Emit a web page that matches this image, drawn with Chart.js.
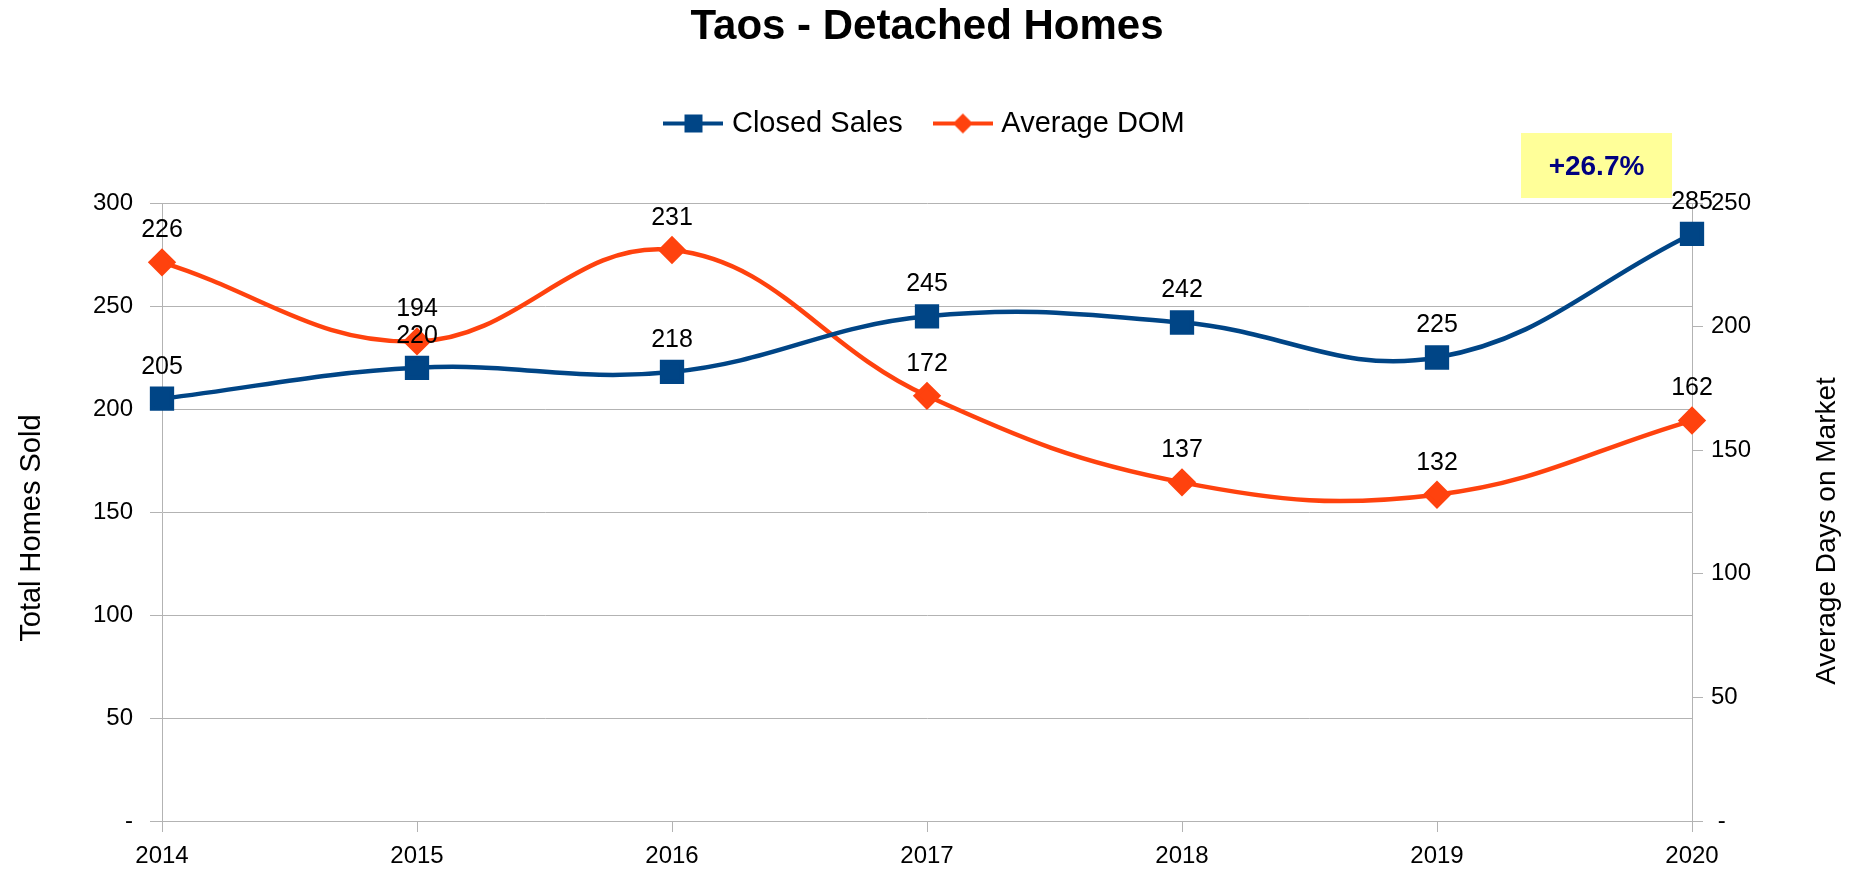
<!DOCTYPE html>
<html>
<head>
<meta charset="utf-8">
<script src="https://cdn.jsdelivr.net/npm/chart.js@4/dist/chart.umd.min.js"></script>
<style>
  html, body { margin: 0; padding: 0; background: #fff; }
</style>
</head>
<body>
<canvas id="myChart" width="1854" height="872"></canvas>
<script>
const years = ['2014', '2015', '2016', '2017', '2018', '2019', '2020'];
const closedSales = [205, 220, 218, 245, 242, 225, 285];
const avgDom = [226, 194, 231, 172, 137, 132, 162];
const changeText = '+26.7%';

const blue = '#004586';
const orange = '#ff420e';
const gridGray = '#b3b3b3';
const fontFamily = '"Liberation Sans", Arial, sans-serif';

Chart.defaults.font.family = fontFamily;
Chart.defaults.color = '#000';

// legend marker: line with the point shape in the middle
function legendIcon(color, shape) {
  const c = document.createElement('canvas');
  c.width = 60;
  c.height = 24;
  const g = c.getContext('2d');
  g.strokeStyle = color;
  g.lineWidth = 4;
  g.beginPath();
  g.moveTo(0, 12);
  g.lineTo(60, 12);
  g.stroke();
  g.fillStyle = color;
  if (shape === 'rect') {
    g.fillRect(21, 3, 18, 18);
  } else {
    g.beginPath();
    g.moveTo(30, 2);
    g.lineTo(40, 12);
    g.lineTo(30, 22);
    g.lineTo(20, 12);
    g.closePath();
    g.fill();
  }
  return c;
}
const icons = [legendIcon(blue, 'rect'), legendIcon(orange, 'diamond')];

const valueLabels = {
  id: 'valueLabels',
  afterDatasetsDraw(chart) {
    const ctx = chart.ctx;
    ctx.save();
    ctx.font = '25px ' + fontFamily;
    ctx.fillStyle = '#000';
    ctx.textAlign = 'center';
    ctx.textBaseline = 'middle';
    chart.data.datasets.forEach((ds, i) => {
      chart.getDatasetMeta(i).data.forEach((pt, j) => {
        ctx.fillText(ds.data[j], pt.x, pt.y - 32);
      });
    });
    ctx.restore();
  }
};

const extras = {
  id: 'extras',
  afterDraw(chart) {
    const {ctx, chartArea} = chart;
    // yellow change badge
    const w = 151, h = 65;
    const x = chartArea.right - 171, y = chartArea.top - 70;
    ctx.save();
    ctx.fillStyle = '#ffff99';
    ctx.fillRect(x, y, w, h);
    ctx.font = 'bold 28px ' + fontFamily;
    ctx.fillStyle = '#000080';
    ctx.textAlign = 'center';
    ctx.textBaseline = 'middle';
    ctx.fillText(changeText, x + w / 2, y + h / 2 + 2);
    // right axis title, reading bottom to top
    ctx.translate(1827, 531);
    ctx.rotate(-Math.PI / 2);
    ctx.font = '28px ' + fontFamily;
    ctx.fillStyle = '#000';
    ctx.fillText('Average Days on Market', 0, 0);
    ctx.restore();
  }
};

new Chart(document.getElementById('myChart'), {
  type: 'line',
  data: {
    labels: years,
    datasets: [{
      label: 'Closed Sales',
      data: closedSales,
      yAxisID: 'y',
      borderColor: blue,
      backgroundColor: blue,
      borderWidth: 4.5,
      pointStyle: 'rect',
      pointRadius: 14,
      pointHoverRadius: 14,
      tension: 0.4,
      clip: 20
    }, {
      label: 'Average DOM',
      data: avgDom,
      yAxisID: 'y1',
      borderColor: orange,
      backgroundColor: orange,
      borderWidth: 4.5,
      pointStyle: 'rectRot',
      pointRadius: 11,
      pointHoverRadius: 11,
      tension: 0.4,
      clip: 20
    }]
  },
  options: {
    responsive: false,
    animation: false,
    devicePixelRatio: 1,
    layout: { padding: 0 },
    plugins: {
      title: {
        display: true,
        text: 'Taos - Detached Homes',
        color: '#000',
        font: { size: 42, weight: 'bold' },
        padding: { top: 2, bottom: 20.6 }
      },
      legend: {
        weight: 1800,
        labels: {
          usePointStyle: true,
          pointStyleWidth: 48,
          padding: 36,
          color: '#000',
          font: { size: 29 },
          generateLabels(chart) {
            const items = Chart.defaults.plugins.legend.labels.generateLabels(chart);
            items.forEach((it, i) => { it.pointStyle = icons[i]; });
            return items;
          }
        }
      },
      subtitle: {
        display: true,
        text: ' ',
        font: { size: 10 },
        padding: { top: 43, bottom: 0 }
      },
      tooltip: { enabled: false }
    },
    scales: {
      x: {
        grid: { drawOnChartArea: false, color: gridGray, tickLength: 11 },
        border: { color: gridGray },
        ticks: { font: { size: 24 }, padding: 10, maxRotation: 0, autoSkip: false },
        afterFit(scale) { scale.height = 51; }
      },
      y: {
        position: 'left',
        min: 0,
        max: 300,
        grid: { color: gridGray, tickLength: 12 },
        border: { color: gridGray },
        ticks: {
          stepSize: 50,
          font: { size: 24 },
          padding: 17,
          callback: v => v === 0 ? '-' : v
        },
        title: {
          display: true,
          text: 'Total Homes Sold    ',
          font: { size: 29 },
          padding: { top: 14.6, bottom: 0 }
        },
        afterFit(scale) { scale.width = 162; }
      },
      y1: {
        position: 'right',
        min: 0,
        max: 250,
        grid: { drawOnChartArea: false, color: gridGray, tickLength: 11 },
        border: { color: gridGray },
        ticks: {
          stepSize: 50,
          font: { size: 24 },
          padding: 8,
          callback: v => v === 0 ? ' -' : v
        },
        afterFit(scale) { scale.width = 162; }
      }
    }
  },
  plugins: [valueLabels, extras]
});
</script>
</body>
</html>
